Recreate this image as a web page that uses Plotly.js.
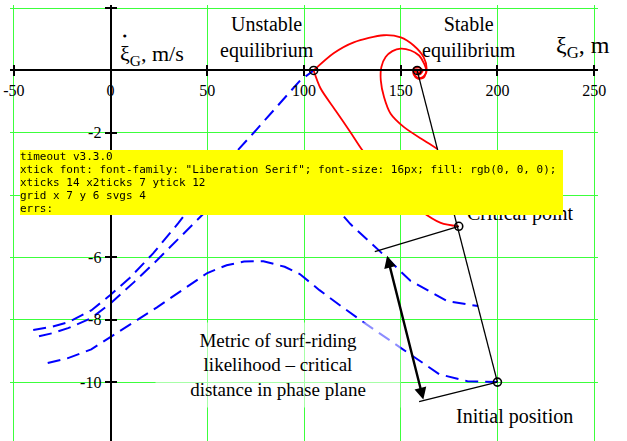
<!DOCTYPE html>
<html>
<head>
<meta charset="utf-8">
<style>html,body{margin:0;padding:0;background:#fff;}#chart{width:627px;height:441px;}#dbg{position:fixed;left:20px;top:150px;font:11px monospace;background:#ff0;z-index:10;max-width:600px;white-space:pre-wrap;}</style>
<script>
window.__errs = [];
window.addEventListener('error', function(e){ window.__errs.push('E:' + e.message + ':' + e.lineno); });
window.addEventListener('unhandledrejection', function(e){ window.__errs.push('R:' + (e.reason && e.reason.stack ? e.reason.stack.slice(0,300) : e.reason)); });
</script>
<script src="https://cdn.plot.ly/plotly-3.0.1.min.js"></script>
</head>
<body>
<div id="chart"></div>
<div id="dbg"></div>
<script>
const xTicks = [-50, 0, 50, 100, 150, 200, 250];
const yTicks = [2, -2, -4, -6, -8, -10];
const xRange = [-52, 252];
const yRange = [-11.89, 2.1];
const traj1X = [-40, -30, -22, -10, 0, 10, 22, 35, 48, 60, 74, 86, 98, 105];
const traj1Y = [-8.33, -8.22, -8.08, -7.7, -7.2, -6.65, -5.87, -4.9, -3.85, -2.95, -2.0, -1.15, -0.32, 0];
const traj2X = [-37, -30, -22, -10, 0, 12, 24, 36, 48, 58, 66, 76, 86, 95, 102, 115, 124, 139, 155, 174, 190];
const traj2Y = [-8.53, -8.43, -8.27, -7.95, -7.47, -6.8, -6.09, -5.35, -4.6, -4.07, -3.7, -3.35, -3.2, -3.3, -3.5, -4.29, -4.93, -5.79, -6.75, -7.4, -7.56];
const traj3X = [-32.5, -22, -10, 0, 12, 24, 37, 50, 60, 69, 79, 90, 98, 108, 120, 131, 150, 170, 184.5, 200];
const traj3Y = [-9.39, -9.23, -8.95, -8.55, -8.07, -7.6, -7.05, -6.5, -6.25, -6.13, -6.12, -6.3, -6.54, -7.05, -7.6, -8.09, -8.9, -9.75, -9.97, -10];
const sepX = [180, 170.7, 160.3, 150, 139.7, 130.3, 124.1, 116.4, 108.6, 105];
const sepY = [-5.0, -4.89, -4.5, -3.95, -3.31, -2.57, -1.99, -1.29, -0.58, 0];
const loopAX = [105, 115.3, 125.7, 141.2, 150, 156.7, 161.9, 163.4, 161.9, 158.8, 156.7, 156.7, 159.3, 161.4, 159.8, 158.3, 157.8, 158.5];
const loopAY = [0, 0.55, 0.9, 1.13, 1.06, 0.8, 0.42, 0.06, -0.23, -0.26, -0.13, 0.06, 0.1, 0, -0.13, -0.1, 0, 0];
const loopCX = [169, 162.1, 151.7, 144.8, 141.4, 139.7, 140, 142.2, 145.7, 150, 155.2, 159.5, 162.1, 163.3, 161.2, 158.6, 156.9, 157.8, 160, 159.5, 158.5];
const loopCY = [-2.52, -2.25, -1.82, -1.39, -0.86, -0.32, 0.11, 0.43, 0.62, 0.70, 0.64, 0.48, 0.22, -0.05, -0.22, -0.23, -0.11, 0.02, 0, -0.11, 0];
const guideX = [158.5, 200];
const guideY = [0, -10];
const perp1X = [180, 136.6];
const perp1Y = [-5, -5.81];
const perp2X = [200, 159.5];
const perp2Y = [-10, -10.63];
const metricStart = [142.8, -5.9];
const metricEnd = [161.7, -10.56];
const ptX = [105, 158.5, 180, 200];
const ptY = [0, 0, -5, -10];
const serif = 'Liberation Serif';
const blueLine = {color: 'rgb(0,0,255)', width: 2, dash: '13px,7px'};
const redLine = {color: 'rgb(255,0,0)', width: 1.8, shape: 'spline', smoothing: 0.8};
const blackLine = {color: 'black', width: 1.3};
function lineTrace(x, y, line) { return {x: x, y: y, mode: 'lines', type: 'scatter', line: line}; }
const traces = [
  lineTrace(traj1X, traj1Y, blueLine), lineTrace(traj2X, traj2Y, blueLine), lineTrace(traj3X, traj3Y, blueLine),
  lineTrace(sepX, sepY, redLine), lineTrace(loopAX, loopAY, redLine), lineTrace(loopCX, loopCY, redLine),
  lineTrace(guideX, guideY, blackLine), lineTrace(perp1X, perp1Y, blackLine), lineTrace(perp2X, perp2Y, blackLine),
  {x: ptX, y: ptY, mode: 'markers', type: 'scatter', marker: {symbol: 'circle-open', size: 8, color: 'black', line: {width: 1.6, color: 'black'}}},
  {x: [xTicks[0]], y: [yTicks[0]], xaxis: 'x2', yaxis: 'y2', mode: 'markers', type: 'scatter', marker: {opacity: 0}}
];
const yPos = (0 - yRange[0]) / (yRange[1] - yRange[0]);
const xPos = (0 - xRange[0]) / (xRange[1] - xRange[0]);
const grid = 'rgb(60,255,60)';
const tf = {family: serif, size: 16, color: 'black'};
const layout = {
  width: 627, height: 441, margin: {l: 10, r: 29, t: 5, b: 0, pad: 0}, showlegend: false,
  font: {family: serif, color: 'black', size: 16},
  xaxis: {range: xRange, anchor: 'free', position: yPos, tickvals: xTicks, ticktext: xTicks.map(String), showline: true, linecolor: 'black', linewidth: 2,
    ticks: 'outside', ticklen: 5, tickwidth: 2, tickcolor: 'black', tickfont: tf, showgrid: true, gridcolor: grid, gridwidth: 1, zeroline: false},
  yaxis: {range: yRange, anchor: 'free', position: xPos, tickvals: yTicks, ticktext: yTicks.map(String), showline: true, linecolor: 'black', linewidth: 2,
    ticks: 'outside', ticklen: 5, tickwidth: 2, tickcolor: 'black', tickfont: tf, showgrid: true, gridcolor: grid, gridwidth: 1, zeroline: false},
  xaxis2: {range: xRange, overlaying: 'x', anchor: 'free', position: yPos, side: 'bottom', tickvals: xTicks, showticklabels: false,
    ticks: 'inside', ticklen: 5, tickwidth: 2, tickcolor: 'black', showline: false, showgrid: false, zeroline: false},
  yaxis2: {range: yRange, overlaying: 'y', anchor: 'free', position: xPos, side: 'left', tickvals: yTicks, showticklabels: false,
    ticks: 'inside', ticklen: 5, tickwidth: 2, tickcolor: 'black', showline: false, showgrid: false, zeroline: false},
  annotations: [
    {x: 81, y: 1.06, xref: 'x', yref: 'y', text: 'Unstable<br>equilibrium', showarrow: false, font: {family: serif, size: 20, color: 'black'}},
    {x: 185.5, y: 1.06, xref: 'x', yref: 'y', text: 'Stable<br>equilibrium', showarrow: false, font: {family: serif, size: 20, color: 'black'}},
    {x: 244, y: 0.75, xref: 'x', yref: 'y', text: 'ξ<sub>G</sub>, m', showarrow: false, font: {family: serif, size: 24, color: 'black'}},
    {x: 4, y: 0.5, xref: 'x', yref: 'y', xanchor: 'left', text: 'ξ<sub>G</sub>, m/s', showarrow: false, font: {family: serif, size: 22, color: 'black'}},
    {x: 7.6, y: 1.12, xref: 'x', yref: 'y', text: '●', showarrow: false, font: {family: 'DejaVu Sans', size: 4, color: 'black'}},
    {x: 212, y: -4.58, xref: 'x', yref: 'y', text: 'Critical point', showarrow: false, font: {family: serif, size: 20, color: 'black'}},
    {x: 208.7, y: -11.1, xref: 'x', yref: 'y', text: 'Initial position', showarrow: false, font: {family: serif, size: 20, color: 'black'}},
    {x: 86.5, y: -9.45, xref: 'x', yref: 'y', showarrow: false, text: 'Metric of surf-riding<br>likelihood – critical<br>distance in phase plane',
     align: 'center', width: 240, height: 80, borderpad: 2, bgcolor: 'rgba(255,255,255,0.55)', font: {family: serif, size: 19, color: 'black'}},
    {x: metricEnd[0], y: metricEnd[1], ax: metricStart[0], ay: metricStart[1], xref: 'x', yref: 'y', axref: 'x', ayref: 'y', text: '', showarrow: true,
     arrowhead: 2, startarrowhead: 2, arrowside: 'end+start', arrowsize: 1, startarrowsize: 1, arrowwidth: 2.4, arrowcolor: 'black', standoff: 0, startstandoff: 0}
  ]
};
function report(tag){
  var t = document.querySelector('.xtick text');
  var info = tag + ' v' + Plotly.version + '\nxtick font: ' + (t ? (t.getAttribute('style')||'').slice(0,70) : 'none') + '\n';
  info += 'xticks ' + document.querySelectorAll('.xtick').length + ' x2ticks ' + document.querySelectorAll('.x2tick').length + ' ytick ' + document.querySelectorAll('.ytick').length + '\n';
  info += 'grid x ' + document.querySelectorAll('.xgrid').length + ' y ' + document.querySelectorAll('.ygrid').length + ' svgs ' + document.querySelectorAll('svg').length + '\n';
  info += 'errs: ' + window.__errs.join('\n');
  document.getElementById('dbg').textContent = info;
}
try {
  Plotly.newPlot('chart', traces, layout, {staticPlot: true, displayModeBar: false}).then(function(){report('ok');}).catch(function(e){window.__errs.push('C:' + (e.stack||e).toString().slice(0,400)); report('catch');});
} catch(e) { window.__errs.push('T:' + (e.stack||e).toString().slice(0,400)); report('throw'); }
setTimeout(function(){report('timeout');}, 1500);
</script>
</body>
</html>
